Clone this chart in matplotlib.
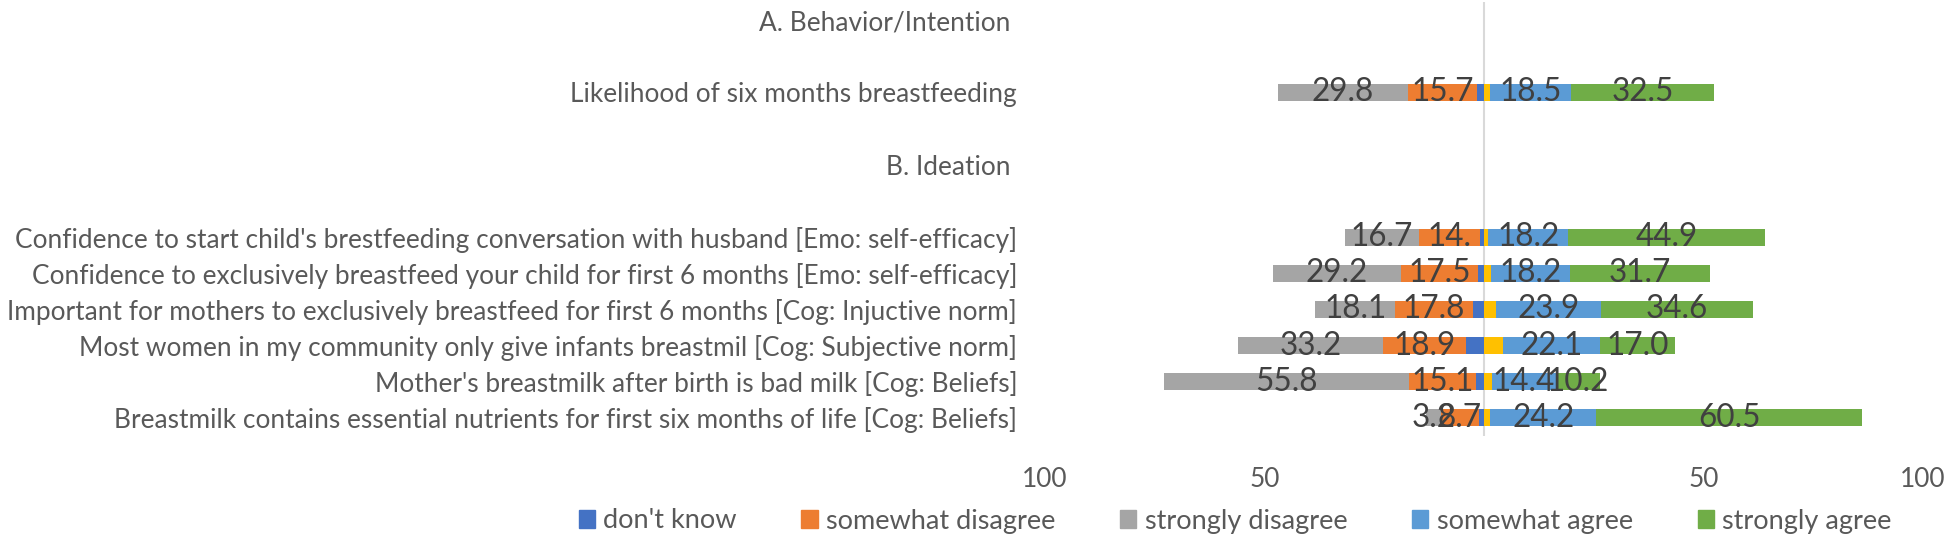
import numpy as np
import matplotlib
matplotlib.use("Agg")
import matplotlib.pyplot as plt
from matplotlib.patches import Patch

FONT = ['Lato', 'DejaVu Sans']
plt.rcParams['font.family'] = FONT

# categories, top to bottom (empty strings are spacer rows of the sheet)
categories = [
    "A. Behavior/Intention ",
    "",
    "Likelihood of six months breastfeeding",
    "",
    "B. Ideation ",
    "",
    "Confidence to start child's brestfeeding conversation with husband [Emo: self-efficacy]",
    "Confidence to exclusively breastfeed your child for first 6 months [Emo: self-efficacy]",
    "Important for mothers to exclusively breastfeed for first 6 months [Cog: Injuctive norm]",
    "Most women in my community only give infants breastmil [Cog: Subjective norm]",
    "Mother's breastmilk after birth is bad milk [Cog: Beliefs]",
    "Breastmilk contains essential nutrients for first six months of life [Cog: Beliefs]",
]

nan = np.nan
dont_know         = [nan, nan, 1.5, nan, nan, nan, 0.9, 1.4, 2.5, 4.0, 1.9, 1.2]
somewhat_disagree = [nan, nan, 15.7, nan, nan, nan, 14.0, 17.5, 17.8, 18.9, 15.1, 8.7]
strongly_disagree = [nan, nan, 29.8, nan, nan, nan, 16.7, 29.2, 18.1, 33.2, 55.8, 3.2]
neutral           = [nan, nan, 1.4, nan, nan, nan, 1.0, 1.5, 2.7, 4.4, 1.9, 1.4]
somewhat_agree    = [nan, nan, 18.5, nan, nan, nan, 18.2, 18.2, 23.9, 22.1, 14.4, 24.2]
strongly_agree    = [nan, nan, 32.5, nan, nan, nan, 44.9, 31.7, 34.6, 17.0, 10.2, 60.5]

# the husband row's orange label is shown cut off in the original
label_override = {("somewhat disagree", 6): "14."}

x_ticks = [-100, -50, 50, 100]
x_tick_labels = ["100", "50", "50", "100"]

C_DK = '#4472C4'
C_OR = '#ED7D31'
C_GR = '#A5A5A5'
C_YE = '#FFC000'
C_LB = '#5B9BD5'
C_GN = '#70AD47'
TXT = '#595959'
LBL = '#404040'

W, H = 1946, 538
fig = plt.figure(figsize=(W / 100, H / 100), dpi=100)

# size the text so the longest category label spans ~1010 px as in the original
probe = fig.text(0, 0, categories[8], fontsize=20)
pw = probe.get_window_extent(renderer=fig.canvas.get_renderer()).width
fs = 20 * 1010 / pw
probe.remove()

ax = fig.add_axes([1045 / W, 1 - 436 / H, (1923 - 1045) / W, 434 / H])

y = np.arange(len(categories))
bar_h = 0.47

left_series = [
    ("don't know", dont_know, C_DK, False),
    ("somewhat disagree", somewhat_disagree, C_OR, True),
    ("strongly disagree", strongly_disagree, C_GR, True),
]
right_series = [
    ("neutral", neutral, C_YE, False),
    ("somewhat agree", somewhat_agree, C_LB, True),
    ("strongly agree", strongly_agree, C_GN, True),
]


def draw_side(series, sign):
    cum = np.zeros(len(categories))
    for name, vals, color, labelled in series:
        v = np.nan_to_num(np.array(vals, dtype=float))
        bars = ax.barh(y, sign * v, left=sign * cum, height=bar_h, color=color,
                       edgecolor='none')
        if labelled:
            labels = []
            for i, val in enumerate(v):
                if val > 0:
                    labels.append(label_override.get((name, i), f"{val:.1f}"))
                else:
                    labels.append("")
            ax.bar_label(bars, labels=labels, label_type='center', fontsize=fs * 1.2,
                         color=LBL)
        cum += v


draw_side(left_series, -1)
draw_side(right_series, 1)

ax.axvline(0, color='#d9d9d9', lw=1.5, zorder=0)

ax.set_xlim(-100, 100)
ax.set_ylim(len(categories) - 0.5, -0.5)
ax.set_xticks(x_ticks)
ax.set_xticklabels(x_tick_labels)
ax.set_yticks(y)
ax.set_yticklabels(categories)
ax.tick_params(axis='x', length=0, pad=22, labelsize=fs, labelcolor=TXT)
ax.tick_params(axis='y', length=0, pad=20, labelsize=fs, labelcolor=TXT)
for s in ax.spines.values():
    s.set_visible(False)

handles = [
    Patch(color=C_DK, label="don't know"),
    Patch(color=C_OR, label="somewhat disagree"),
    Patch(color=C_GR, label="strongly disagree"),
    Patch(color=C_LB, label="somewhat agree"),
    Patch(color=C_GN, label="strongly agree"),
]
leg = fig.legend(handles=handles, loc='center', bbox_to_anchor=(1235 / W, 1 - 521 / H),
                 ncol=5, frameon=False, fontsize=fs * 1.03, handlelength=0.6,
                 handleheight=0.6, handletextpad=0.3, columnspacing=2.4)
for t in leg.get_texts():
    t.set_color(TXT)

fig.savefig("out.png", dpi=100)
